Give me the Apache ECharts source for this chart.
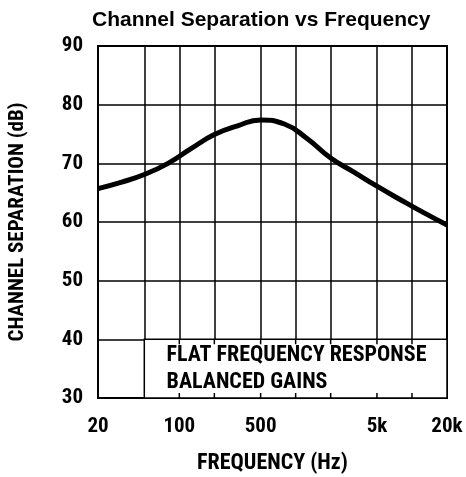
<!DOCTYPE html>
<html>
<head>
<meta charset="utf-8">
<script src="https://cdn.jsdelivr.net/npm/echarts@6/dist/echarts.min.js"></script>
<style>
  html, body { margin: 0; padding: 0; background: #fff; }
  #chart { width: 466px; height: 477px; }
</style>
</head>
<body>
<div id="chart"></div>
<script>
// frequency points (Hz) and channel separation (dB)
const freqs = [20, 32, 50, 80, 126, 200, 317, 500, 800, 1260, 2000, 3170, 5000, 7960, 12600, 20000];
const separation = [65.7, 66.8, 68.1, 70.0, 72.5, 74.9, 76.4, 77.4, 76.7, 74.2, 70.9, 68.5, 66.1, 63.8, 61.6, 59.5];
// grid lines and labels on the log axis
const gridFreqs = [20, 50, 100, 200, 500, 1000, 2000, 5000, 10000, 20000];
const labelFreqs = [20, 100, 500, 5000, 20000];
// tick stubs drawn on the edges of the note box
const stubFreqs = [100, 200, 500, 1000, 2000, 5000, 10000];
const noteLines = ["FLAT FREQUENCY RESPONSE", "BALANCED GAINS"];

const narrow = "'Roboto Condensed', Roboto, sans-serif";

// short vertical segments, broken apart with "-" gaps
let stubData = [];
stubFreqs.forEach((f) => {
  stubData.push([f, 40], [f, 39.15], [f, "-"]);
  stubData.push([f, 30], [f, 30.85], [f, "-"]);
});

let myChart = echarts.init(document.getElementById("chart"));
myChart.setOption({
  animation: false,
  title: {
    text: "Channel Separation vs Frequency",
    left: 87,
    top: 5,
    textStyle: {
      fontFamily: "'Liberation Sans', Arial, sans-serif",
      fontWeight: "bold",
      fontSize: 21,
      color: "#000",
    },
  },
  grid: {
    left: 98,
    right: 19,
    top: 46,
    bottom: 79,
    outerBoundsMode: "none",
    show: true,
    borderColor: "#000",
    borderWidth: 2,
  },
  xAxis: {
    type: "log",
    logBase: 10,
    min: 20,
    max: 20000,
    name: "FREQUENCY (Hz)",
    nameLocation: "middle",
    nameGap: 54,
    nameTextStyle: {
      fontFamily: narrow,
      fontWeight: "bold",
      fontSize: 22,
      color: "#000",
    },
    axisLine: { show: false },
    axisTick: {
      show: false,
      customValues: gridFreqs,
    },
    axisLabel: {
      customValues: labelFreqs,
      margin: 18,
      fontFamily: narrow,
      fontWeight: "bold",
      fontSize: 21,
      color: "#000",
      formatter: (v) => (v >= 1000 ? v / 1000 + "k" : String(v)),
    },
    splitLine: {
      show: true,
      lineStyle: { color: "#000", width: 1.5 },
    },
  },
  yAxis: {
    type: "value",
    min: 30,
    max: 90,
    interval: 10,
    name: "CHANNEL SEPARATION (dB)",
    nameLocation: "middle",
    nameGap: 70,
    nameTextStyle: {
      fontFamily: narrow,
      fontWeight: "bold",
      fontSize: 21,
      color: "#000",
    },
    axisLine: { show: false },
    axisTick: { show: false },
    axisLabel: {
      margin: 15,
      fontFamily: narrow,
      fontWeight: "bold",
      fontSize: 21,
      color: "#000",
    },
    splitLine: {
      show: true,
      lineStyle: { color: "#000", width: 1.5 },
    },
  },
  series: [
    {
      // white note box over the bottom row of the grid
      type: "line",
      data: [],
      z: 1,
      markArea: {
        silent: true,
        z: 1,
        itemStyle: { color: "#fff", borderColor: "#000", borderWidth: 1.5 },
        label: {
          show: true,
          position: "insideLeft",
          distance: 23,
          formatter: noteLines.join("\n"),
          fontFamily: narrow,
          fontWeight: "bold",
          fontSize: 22,
          lineHeight: 27,
          color: "#000",
        },
        data: [[{ coord: [50, 30] }, { coord: [20000, 40] }]],
      },
    },
    {
      type: "line",
      data: freqs.map((f, i) => [f, separation[i]]),
      smooth: true,
      showSymbol: false,
      z: 3,
      lineStyle: { color: "#000", width: 5 },
    },
    {
      // tick stubs on the note box edges
      type: "line",
      data: stubData,
      connectNulls: false,
      showSymbol: false,
      silent: true,
      z: 100,
      lineStyle: { color: "#000", width: 1.5 },
    },
  ],
});
</script>
</body>
</html>
